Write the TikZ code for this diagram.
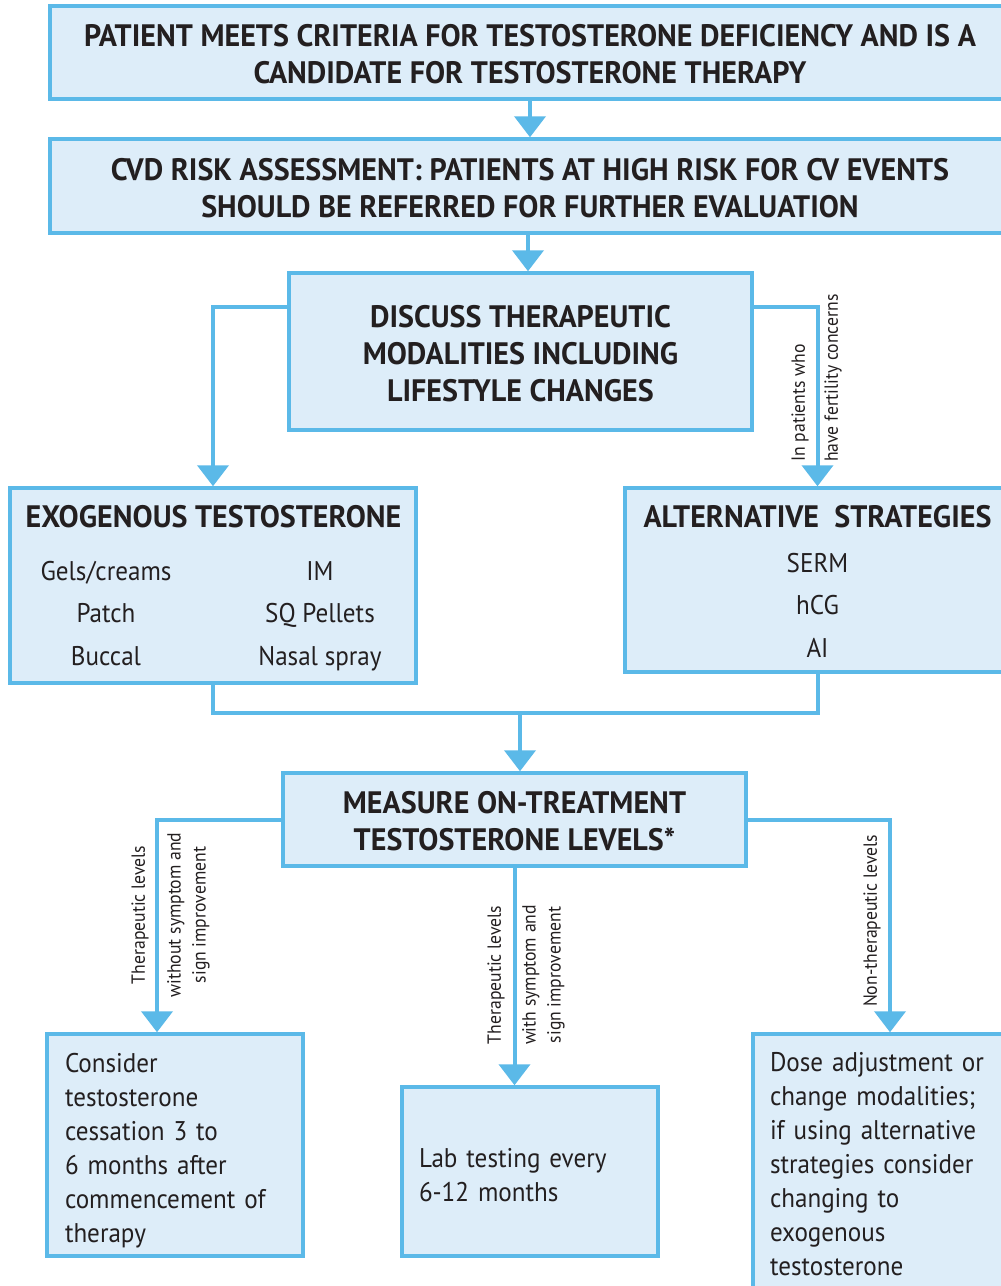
\documentclass[tikz,border=0pt]{standalone}
\usepackage{fontspec}
\setmainfont{PT Sans}[FakeStretch=0.93]
\newfontfamily\hfont{PT Sans}[FakeStretch=0.97]
\newfontfamily\lfont{PT Sans}[FakeStretch=0.93]
\usetikzlibrary{arrows.meta}
\definecolor{bord}{HTML}{5BB9E8}
\definecolor{fillc}{HTML}{DDEDF9}
\definecolor{ink}{HTML}{231F20}
\begin{document}
\begin{tikzpicture}[x=1pt,y=-1pt,
  box/.style={draw=bord,fill=fillc,line width=3.5pt,inner sep=0pt,text=ink},
  headtxt/.style={font=\hfont\bfseries\fontsize{31}{37}\selectfont,align=center},
  bodytxt/.style={text=ink,inner sep=0pt,font=\fontsize{27}{34}\selectfont},
  lbl/.style={text=ink,inner sep=0pt,rotate=90,align=center,font=\lfont\fontsize{19}{25}\selectfont},
  conn/.style={draw=bord,line width=4pt},
  arr/.style={conn,-{Triangle[width=31pt,length=21pt]}}]
\clip (0,0) rectangle (1001,1286);
\fill[white] (0,0) rectangle (1001,1286);
% boxes
\node[box,headtxt,minimum width=960,minimum height=93] (b1) at (530,52.5)
  {\rule{0pt}{26pt}PATIENT MEETS CRITERIA FOR TESTOSTERONE DEFICIENCY AND IS A\\CANDIDATE FOR TESTOSTERONE THERAPY};
\node[box,headtxt,minimum width=960,minimum height=94] (b2) at (530,186)
  {\rule{0pt}{26pt}CVD RISK ASSESSMENT: PATIENTS AT HIGH RISK FOR CV EVENTS\\SHOULD BE REFERRED FOR FURTHER EVALUATION};
\node[box,headtxt,minimum width=463,minimum height=157] (b3) at (520.5,351.5)
  {\rule{0pt}{26pt}DISCUSS THERAPEUTIC\\MODALITIES INCLUDING\\LIFESTYLE CHANGES};
\node[box,minimum width=406,minimum height=195] (b4) at (213,585.5) {};
\node[box,minimum width=385,minimum height=184] (b5) at (817.5,580) {};
\node[box,headtxt,minimum width=463,minimum height=93] (b6) at (514.5,819.5)
  {\rule{0pt}{26pt}MEASURE ON-TREATMENT\\TESTOSTERONE LEVELS*};
\node[box,bodytxt,draw=bord,align=left,text width=220,inner xsep=18,minimum height=222] (b7) at (175,1145)
  {\rule{0pt}{30pt}Consider\\testosterone\\cessation 3 to\\6 months after\\commencement of\\therapy};
\node[box,bodytxt,draw=bord,align=left,text width=222,inner xsep=17,minimum height=169] (b8) at (530,1171.5)
  {\rule{0pt}{26pt}Lab testing every\\6-12 months};
\node[box,bodytxt,draw=bord,align=left,text width=223,inner xsep=17,minimum height=260] (b9) at (881.5,1164)
  {Dose adjustment or\\change modalities;\\if using alternative\\strategies consider\\changing to\\exogenous\\testosterone};
% box 4 contents
\node[text=ink,inner sep=0pt,anchor=base,font=\hfont\bfseries\fontsize{31}{37}\selectfont] (t4) at (213.5,527) {EXOGENOUS TESTOSTERONE};
\node[bodytxt,anchor=base] (g1) at (106,580) {Gels/creams};
\node[bodytxt,anchor=base] (g2) at (106,622) {Patch};
\node[bodytxt,anchor=base] (g3) at (106,665) {Buccal};
\node[bodytxt,anchor=base] (h1) at (320,580) {IM};
\node[bodytxt,anchor=base] (h2) at (320,622) {SQ Pellets};
\node[bodytxt,anchor=base] (h3) at (320,665) {Nasal spray};
% box 5 contents
\node[text=ink,inner sep=0pt,anchor=base,font=\hfont\bfseries\fontsize{31}{37}\selectfont] (t5) at (817.5,527) {ALTERNATIVE\ \ STRATEGIES};
\node[bodytxt,anchor=base] (s1) at (817.5,572) {SERM};
\node[bodytxt,anchor=base] (s2) at (817.5,614) {hCG};
\node[bodytxt,anchor=base] (s3) at (817.5,657) {AI};
% connectors
\draw[arr] (b1.south) -- (b2.north);
\draw[arr] ([xshift=7.5pt]b2.south -| b3.north) -- ([xshift=7.5pt]b3.north);
\draw[arr] ([yshift=44.5pt]b3.west) -| (b4.north);
\draw[arr] ([yshift=44.5pt]b3.east) -| (b5.north);
\coordinate (m) at (520,713);
\draw[conn] (b4.south) |- (m) -| (b5.south);
\draw[arr] (m) -- (m |- b6.north);
\draw[arr] (b6.west) -| ([xshift=-18pt]b7.north);
\draw[arr] (b6.south) -- (b6.south |- b8.north);
\draw[arr] (b6.east) -| ([xshift=8.5pt]b9.north);
% labels
\node[lbl,anchor=west] (l1) at (800,462) {In patients who};
\node[lbl,anchor=west] (l2) at (833,462) {have fertility concerns};
\node[lbl] (l3) at (140,915) {Therapeutic levels};
\node[lbl] (l4) at (188.5,915) {without symptom and\\sign improvement};
\node[lbl] (l5) at (496,975) {Therapeutic levels};
\node[lbl] (l6) at (543.5,975) {with symptom and\\sign improvement};
\node[lbl] (l7) at (872,921) {Non-therapeutic levels};
\end{tikzpicture}
\end{document}
